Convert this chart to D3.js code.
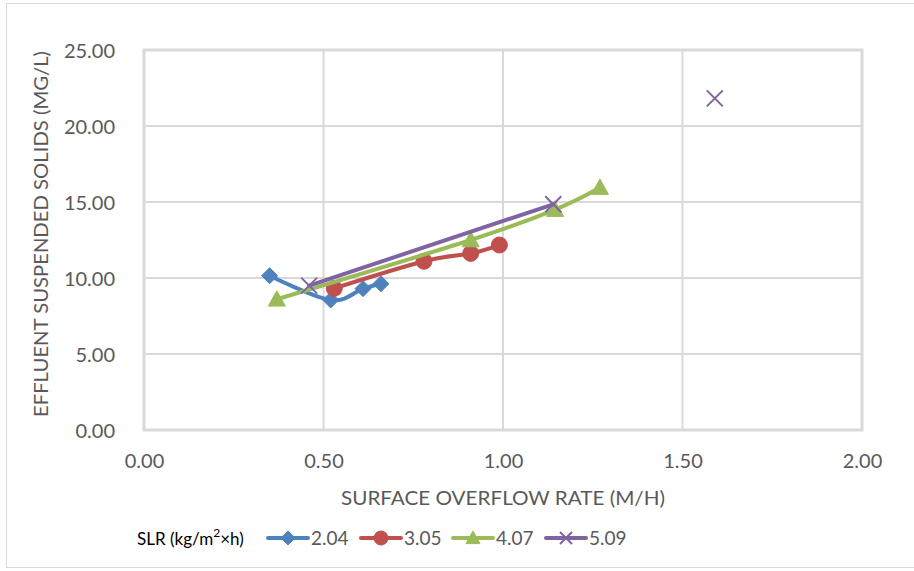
<!DOCTYPE html>
<html><head><meta charset="utf-8">
<script src="https://cdn.jsdelivr.net/npm/d3@7"></script>
<style>body{margin:0;background:#fff}svg{display:block}text{font-family:Lato,"Open Sans",sans-serif;fill:#595959}</style>
</head><body>
<script>
const seriesNames = ["2.04", "3.05", "4.07", "5.09"];
const seriesColors = ["#4f81bd", "#c0504d", "#9bbb59", "#8064a2"];
const seriesMarkers = ["diamond", "circle", "triangle", "x"];
const sor204 = [0.35, 0.52, 0.61, 0.66];
const ess204 = [10.15, 8.55, 9.3, 9.62];
const sor305 = [0.53, 0.78, 0.91, 0.99];
const ess305 = [9.32, 11.1, 11.62, 12.17];
const sor407 = [0.37, 0.91, 1.145, 1.27];
const ess407 = [8.6, 12.5, 14.5, 15.95];
const sor509 = [0.46, 1.14, null, 1.59];
const ess509 = [9.5, 14.85, null, 21.82];
const xTicks = [0, 0.5, 1.0, 1.5, 2.0];
const yTicks = [0, 5, 10, 15, 20, 25];
const xTitle = "SURFACE OVERFLOW RATE (M/H)";
const yTitle = "EFFLUENT SUSPENDED SOLIDS (MG/L)";
const legendTitle = "SLR (kg/m";

const W = 914, H = 571;
const svg = d3.select("body").append("svg").attr("width", W).attr("height", H);
svg.append("rect").attr("x", 6.5).attr("y", 3.5).attr("width", W + 10).attr("height", 564)
  .attr("fill", "#fff").attr("stroke", "#d9d9d9").attr("stroke-width", 1);

const x = d3.scaleLinear().domain([0, 2]).range([144, 862]);
const y = d3.scaleLinear().domain([0, 25]).range([430, 50]);

// gridlines
svg.append("g").selectAll("line.v").data(xTicks.slice(1, -1)).join("line")
  .attr("x1", d => x(d)).attr("x2", d => x(d)).attr("y1", y(25)).attr("y2", y(0))
  .attr("stroke", "#d9d9d9").attr("stroke-width", 2);
svg.append("g").selectAll("line.h").data(yTicks.slice(1, -1)).join("line")
  .attr("x1", x(0)).attr("x2", x(2)).attr("y1", d => y(d)).attr("y2", d => y(d))
  .attr("stroke", "#d9d9d9").attr("stroke-width", 2);
svg.append("rect").attr("x", x(0)).attr("y", y(25)).attr("width", x(2) - x(0)).attr("height", y(0) - y(25))
  .attr("fill", "none").attr("stroke", "#d9d9d9").attr("stroke-width", 3);

// axes (labels only)
const xAxis = d3.axisBottom(x).tickValues(xTicks).tickFormat(d3.format(".2f")).tickSize(0).tickPadding(0);
const gx = svg.append("g").attr("transform", `translate(0,${y(0)})`).call(xAxis);
gx.select(".domain").remove();
gx.selectAll("text").attr("dy", null).attr("y", 38).style("font-size", "20px").attr("fill", "#595959");
const yAxis = d3.axisLeft(y).tickValues(yTicks).tickFormat(d3.format(".2f")).tickSize(0).tickPadding(0);
const gy = svg.append("g").attr("transform", `translate(115,0)`).call(yAxis);
gy.select(".domain").remove();
gy.selectAll("text").attr("dy", "0.36em").attr("x", 0).style("font-size", "20px").attr("fill", "#595959");

svg.append("text").attr("x", 503).attr("y", 505).attr("text-anchor", "middle")
  .style("font-size", "20px").attr("textLength", 324).attr("lengthAdjust", "spacingAndGlyphs").text(xTitle);
svg.append("text").attr("transform", "translate(48,234) rotate(-90)").attr("text-anchor", "middle")
  .style("font-size", "19px").attr("textLength", 366).attr("lengthAdjust", "spacingAndGlyphs").text(yTitle);

const series = [
  {name: seriesNames[0], xs: sor204, ys: ess204},
  {name: seriesNames[1], xs: sor305, ys: ess305},
  {name: seriesNames[2], xs: sor407, ys: ess407},
  {name: seriesNames[3], xs: sor509, ys: ess509}
].map((s, i) => ({...s, color: seriesColors[i], marker: seriesMarkers[i],
  pts: s.xs.map((v, j) => ({x: v, y: s.ys[j]}))}));

const line = d3.line().defined(d => d.x != null).x(d => x(d.x)).y(d => y(d.y)).curve(d3.curveCardinal.tension(0));

function markerPath(type, s) {
  if (type === "diamond") return `M0,${-s}L${s},0L0,${s}L${-s},0Z`;
  if (type === "triangle") return `M0,${-s}L${s},${s * 0.8}L${-s},${s * 0.8}Z`;
  if (type === "x") return `M${-s},${-s}L${s},${s}M${-s},${s}L${s},${-s}`;
  return d3.symbol(d3.symbolCircle, Math.PI * s * s)();
}
function drawMarker(g, type, color, cx, cy, s) {
  const p = g.append("path").attr("d", markerPath(type, s)).attr("transform", `translate(${cx},${cy})`);
  if (type === "x") p.attr("fill", "none").attr("stroke", color).attr("stroke-width", 2);
  else p.attr("fill", color).attr("stroke", color).attr("stroke-width", 1);
}
const sizes = {diamond: 8, circle: 8, triangle: 8.5, x: 8};

series.forEach(s => {
  const g = svg.append("g");
  const segs = [];
  let cur = [];
  s.pts.forEach(p => { if (p.x == null) { if (cur.length) segs.push(cur); cur = []; } else cur.push(p); });
  if (cur.length) segs.push(cur);
  segs.filter(sg => sg.length > 1).forEach(sg => {
    g.append("path").attr("d", line(sg)).attr("fill", "none").attr("stroke", s.color)
      .attr("stroke-width", 4).attr("stroke-linecap", "round").attr("stroke-linejoin", "round");
  });
  s.pts.filter(p => p.x != null).forEach(p => drawMarker(g, s.marker, s.color, x(p.x), y(p.y), sizes[s.marker]));
});

// legend
const lt = svg.append("text").attr("x", 137).attr("y", 545).style("font-size", "17px").style("fill", "#000");
lt.append("tspan").text(legendTitle);
lt.append("tspan").attr("dy", -8).style("font-size", "12px").text("2");
lt.append("tspan").attr("dy", 8).text("×h)");
const legX = [268, 361, 453, 546];
series.forEach((s, i) => {
  const g = svg.append("g");
  g.append("line").attr("x1", legX[i]).attr("x2", legX[i] + 40).attr("y1", 538).attr("y2", 538)
    .attr("stroke", s.color).attr("stroke-width", 4).attr("stroke-linecap", "round");
  drawMarker(g, s.marker, s.color, legX[i] + 20, 538, s.marker === "x" ? 6 : 7);
  g.append("text").attr("x", legX[i] + 43).attr("y", 545).style("font-size", "19px").text(s.name);
});
</script>
</body></html>
